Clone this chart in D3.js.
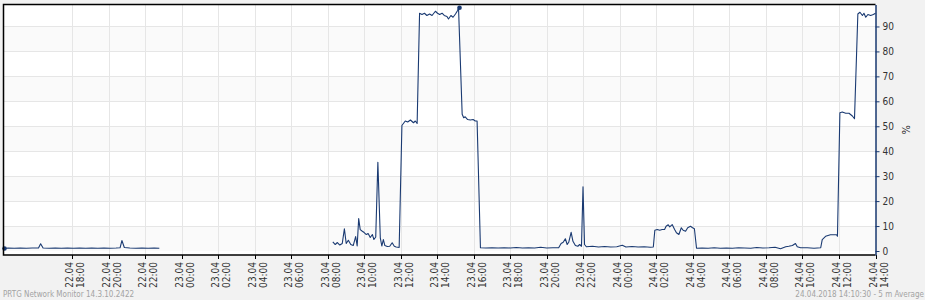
<!DOCTYPE html>
<html lang="en">
<head>
    <meta charset="UTF-8">
    <title>PRTG sensor graph</title>
    <script src="https://d3js.org/d3.v7.min.js"></script>
    <style>
        body { margin: 0; background: #f2f2f2; }
        svg { display: block; font-family: "DejaVu Sans Condensed", "DejaVu Sans", sans-serif; }
        .grid line { stroke: #e6e6e6; shape-rendering: crispEdges; }
        .footer { fill: #a3a3a3; font-size: 8px; }
    </style>
</head>
<body>
</body>
<script>
    const width = 925;
    const height = 300;

    // 5 min averages, % (null = no data)
    const samples = [
        ["22.04 14:15", 1.0], ["22.04 14:30", 1.2], ["22.04 14:50", 1.1], ["22.04 15:10", 1.2],
        ["22.04 15:30", 1.1], ["22.04 15:50", 1.2], ["22.04 16:10", 1.2], ["22.04 16:17", 2.9],
        ["22.04 16:25", 1.2], ["22.04 16:45", 1.1], ["22.04 17:05", 1.2], ["22.04 17:25", 1.1],
        ["22.04 17:45", 1.2], ["22.04 18:05", 1.1], ["22.04 18:25", 1.2], ["22.04 18:45", 1.1],
        ["22.04 19:05", 1.2], ["22.04 19:25", 1.1], ["22.04 19:45", 1.2], ["22.04 20:05", 1.1],
        ["22.04 20:25", 1.2], ["22.04 20:38", 1.3], ["22.04 20:44", 4.2], ["22.04 20:52", 1.4],
        ["22.04 21:10", 1.2], ["22.04 21:30", 1.1], ["22.04 21:50", 1.2], ["22.04 22:10", 1.1],
        ["22.04 22:30", 1.2], ["22.04 22:47", 1.1],
        ["23.04 03:00", null],
        ["23.04 08:17", 3.7], ["23.04 08:25", 2.6], ["23.04 08:32", 3.4], ["23.04 08:40", 2.4],
        ["23.04 08:48", 3.0], ["23.04 08:55", 8.9], ["23.04 09:01", 3.0], ["23.04 09:08", 4.3],
        ["23.04 09:16", 2.6], ["23.04 09:24", 2.2], ["23.04 09:32", 5.8], ["23.04 09:37", 2.0],
        ["23.04 09:42", 13.0], ["23.04 09:47", 8.6], ["23.04 09:54", 7.9], ["23.04 10:00", 7.4],
        ["23.04 10:07", 6.6], ["23.04 10:13", 7.0], ["23.04 10:20", 5.4], ["23.04 10:27", 6.6],
        ["23.04 10:32", 4.6], ["23.04 10:38", 5.6], ["23.04 10:45", 35.6], ["23.04 10:53", 5.3],
        ["23.04 10:58", 2.0], ["23.04 11:03", 4.6], ["23.04 11:08", 2.2], ["23.04 11:16", 1.8],
        ["23.04 11:24", 1.9], ["23.04 11:32", 3.3], ["23.04 11:39", 1.9], ["23.04 11:45", 1.6],
        ["23.04 11:55", 1.4], ["23.04 12:04", 50.3], ["23.04 12:15", 52.1], ["23.04 12:23", 51.7],
        ["23.04 12:32", 52.5], ["23.04 12:42", 51.4], ["23.04 12:48", 52.1], ["23.04 12:54", 51.1],
        ["23.04 13:02", 95.3], ["23.04 13:10", 94.8], ["23.04 13:18", 95.3], ["23.04 13:26", 94.4],
        ["23.04 13:35", 95.0], ["23.04 13:43", 94.4], ["23.04 13:54", 96.1], ["23.04 14:01", 95.3],
        ["23.04 14:08", 94.8], ["23.04 14:16", 95.3], ["23.04 14:23", 94.4], ["23.04 14:32", 94.0],
        ["23.04 14:37", 93.0], ["23.04 14:45", 94.4], ["23.04 14:52", 93.7], ["23.04 15:00", 95.0],
        ["23.04 15:07", 96.4], ["23.04 15:10", 97.5], ["23.04 15:22", 54.8], ["23.04 15:27", 53.4],
        ["23.04 15:32", 53.8], ["23.04 15:40", 52.7], ["23.04 15:49", 52.5], ["23.04 15:58", 52.7],
        ["23.04 16:05", 52.1], ["23.04 16:11", 52.1], ["23.04 16:22", 1.3], ["23.04 16:40", 1.2],
        ["23.04 17:00", 1.3], ["23.04 17:20", 1.2], ["23.04 17:40", 1.3], ["23.04 18:00", 1.2],
        ["23.04 18:20", 1.4], ["23.04 18:40", 1.2], ["23.04 19:00", 1.3], ["23.04 19:20", 1.2],
        ["23.04 19:40", 1.5], ["23.04 20:00", 1.2], ["23.04 20:20", 1.3], ["23.04 20:39", 1.3],
        ["23.04 20:47", 3.0], ["23.04 20:54", 3.5], ["23.04 21:01", 4.9], ["23.04 21:07", 2.6],
        ["23.04 21:12", 3.5], ["23.04 21:20", 7.5], ["23.04 21:26", 3.9], ["23.04 21:34", 2.2],
        ["23.04 21:42", 1.9], ["23.04 21:48", 2.6], ["23.04 21:54", 1.9], ["23.04 21:59", 25.7],
        ["23.04 22:04", 2.6], ["23.04 22:10", 1.7], ["23.04 22:30", 1.9], ["23.04 22:50", 1.6],
        ["23.04 23:10", 1.8], ["23.04 23:30", 1.6], ["23.04 23:50", 1.7], ["24.04 00:08", 2.3],
        ["24.04 00:20", 1.6], ["24.04 00:40", 1.8], ["24.04 01:00", 1.6], ["24.04 01:20", 1.7],
        ["24.04 01:40", 1.5], ["24.04 01:50", 1.6], ["24.04 01:55", 8.3], ["24.04 02:03", 8.6],
        ["24.04 02:11", 8.3], ["24.04 02:19", 8.6], ["24.04 02:27", 8.6], ["24.04 02:32", 9.9],
        ["24.04 02:39", 10.5], ["24.04 02:44", 9.7], ["24.04 02:52", 10.6], ["24.04 03:00", 8.6],
        ["24.04 03:06", 7.3], ["24.04 03:14", 6.6], ["24.04 03:22", 9.3], ["24.04 03:28", 8.3],
        ["24.04 03:36", 7.9], ["24.04 03:43", 9.3], ["24.04 03:52", 9.9], ["24.04 03:59", 9.3],
        ["24.04 04:05", 8.9], ["24.04 04:12", 1.1], ["24.04 04:30", 1.2], ["24.04 04:50", 1.1],
        ["24.04 05:10", 1.3], ["24.04 05:30", 1.1], ["24.04 05:50", 1.2], ["24.04 06:10", 1.1],
        ["24.04 06:30", 1.3], ["24.04 06:50", 1.2], ["24.04 07:10", 1.1], ["24.04 07:30", 1.4],
        ["24.04 07:50", 1.2], ["24.04 08:10", 1.3], ["24.04 08:30", 1.5], ["24.04 08:48", 0.9],
        ["24.04 09:05", 1.7], ["24.04 09:15", 1.9], ["24.04 09:27", 2.2], ["24.04 09:37", 3.0],
        ["24.04 09:43", 1.7], ["24.04 09:54", 1.3], ["24.04 10:16", 1.3], ["24.04 10:38", 1.1],
        ["24.04 11:00", 1.3], ["24.04 11:05", 4.6], ["24.04 11:16", 5.9], ["24.04 11:32", 6.5],
        ["24.04 11:52", 6.5], ["24.04 11:55", 5.9], ["24.04 12:03", 55.4], ["24.04 12:11", 55.7],
        ["24.04 12:22", 55.2], ["24.04 12:33", 55.2], ["24.04 12:44", 54.1], ["24.04 12:51", 53.0],
        ["24.04 13:02", 95.0], ["24.04 13:09", 95.7], ["24.04 13:17", 94.4], ["24.04 13:22", 95.3],
        ["24.04 13:28", 93.7], ["24.04 13:35", 94.8], ["24.04 13:44", 94.4], ["24.04 13:53", 94.8],
        ["24.04 14:00", 95.3]
    ];
    // min / max markers
    const markers = [["22.04 14:15", 1.0], ["23.04 15:10", 97.5]];

    const timeStart = "22.04 14:15";
    const timeEnd = "24.04 14:00";
    const firstTick = "22.04 18:00";
    const yTicks = [0, 10, 20, 30, 40, 50, 60, 70, 80, 90];
    const yDomain = [-1.6, 98.8];
    const footerLeft = "PRTG Network Monitor 14.3.10.2422";
    const footerRight = "24.04.2018 14:10:30 - 5 m Average";
    const unit = "%";

    const parse = s => d3.utcParse("%d.%m.%Y %H:%M")(s.replace(" ", ".2018 "));

    const plot = {left: 3.5, right: 875.5, top: 4.5, bottom: 255};
    const navy = "#1a3a72";

    const x = d3.scaleUtc()
        .domain([parse(timeStart), parse(timeEnd)])
        .range([plot.left, plot.right]);
    const y = d3.scaleLinear()
        .domain(yDomain)
        .range([plot.bottom, plot.top]);

    const xTicks = d3.utcHour.every(2).range(parse(firstTick), d3.utcMinute.offset(parse(timeEnd), 1));

    const svg = d3.select("body").append("svg")
        .attr("width", width)
        .attr("height", height);

    // plot background + alternating bands
    svg.append("rect")
        .attr("x", plot.left).attr("y", plot.top)
        .attr("width", plot.right - plot.left).attr("height", plot.bottom - plot.top)
        .attr("fill", "#fff");
    svg.append("g").selectAll("rect")
        .data(yTicks.filter((d, i) => i % 2 === 0))
        .enter().append("rect")
        .attr("x", plot.left)
        .attr("width", plot.right - plot.left)
        .attr("y", d => y(d + 10))
        .attr("height", d => y(d) - y(d + 10))
        .attr("fill", "#fafafa");

    // grid
    const grid = svg.append("g").attr("class", "grid");
    grid.selectAll(".h").data(yTicks.slice(1))
        .enter().append("line")
        .attr("x1", plot.left).attr("x2", plot.right)
        .attr("y1", d => Math.round(y(d)) + 0.5).attr("y2", d => Math.round(y(d)) + 0.5);
    grid.selectAll(".v").data(xTicks)
        .enter().append("line")
        .attr("y1", plot.top).attr("y2", plot.bottom)
        .attr("x1", d => Math.round(x(d)) + 0.5).attr("x2", d => Math.round(x(d)) + 0.5);

    // series line
    const line = d3.line()
        .defined(d => d[1] != null)
        .x(d => x(parse(d[0])))
        .y(d => y(d[1]));
    svg.append("path")
        .datum(samples)
        .attr("fill", "none")
        .attr("stroke", navy)
        .attr("stroke-width", 1.1)
        .attr("stroke-linejoin", "round")
        .attr("d", line);

    svg.append("g").selectAll("circle")
        .data(markers)
        .enter().append("circle")
        .attr("cx", d => x(parse(d[0])) + 1)
        .attr("cy", d => y(d[1]))
        .attr("r", 2.3)
        .attr("fill", navy);

    // frame
    svg.append("path")
        .attr("d", `M${plot.right},${plot.top}H${plot.left}V${plot.bottom}H${plot.right}`)
        .attr("fill", "none")
        .attr("stroke", "#000")
        .attr("stroke-width", 1.5);

    // x axis ticks + two line labels
    const xt = svg.append("g").selectAll("g")
        .data(xTicks)
        .enter().append("g")
        .attr("transform", d => `translate(${Math.round(x(d)) + 0.5},0)`);
    xt.append("line")
        .attr("y1", plot.bottom).attr("y2", plot.bottom + 4)
        .attr("stroke", "#000");
    const lbl = xt.append("text")
        .attr("transform", `translate(0,${plot.bottom + 7}) rotate(-90)`)
        .attr("text-anchor", "end")
        .attr("font-size", 10)
        .attr("fill", "#333");
    lbl.append("tspan").attr("x", 0).attr("y", 0).text(d3.utcFormat("%d.%m"));
    lbl.append("tspan").attr("x", 0).attr("y", 11.5).text(d3.utcFormat("%H:%M"));

    // y axis on the right
    const yAxis = svg.append("g")
        .attr("transform", `translate(${plot.right},0)`)
        .call(d3.axisRight(y).tickValues(yTicks).tickSize(4).tickSizeOuter(0).tickPadding(3));
    yAxis.select(".domain").attr("stroke", navy).attr("stroke-width", 1.5);
    yAxis.selectAll(".tick line").attr("stroke", navy);
    yAxis.selectAll(".tick text")
        .attr("font-family", "DejaVu Sans Condensed, DejaVu Sans, sans-serif")
        .attr("font-size", 10)
        .attr("fill", "#333");

    svg.append("text")
        .attr("transform", `translate(910,${(plot.top + plot.bottom) / 2}) rotate(-90)`)
        .attr("text-anchor", "middle")
        .attr("font-size", 11)
        .attr("fill", "#333")
        .text(unit);

    // footer
    svg.append("text").attr("class", "footer")
        .attr("x", 3).attr("y", 297)
        .text(footerLeft);
    svg.append("text").attr("class", "footer")
        .attr("x", 924).attr("y", 297)
        .attr("text-anchor", "end")
        .text(footerRight);
</script>
</html>
